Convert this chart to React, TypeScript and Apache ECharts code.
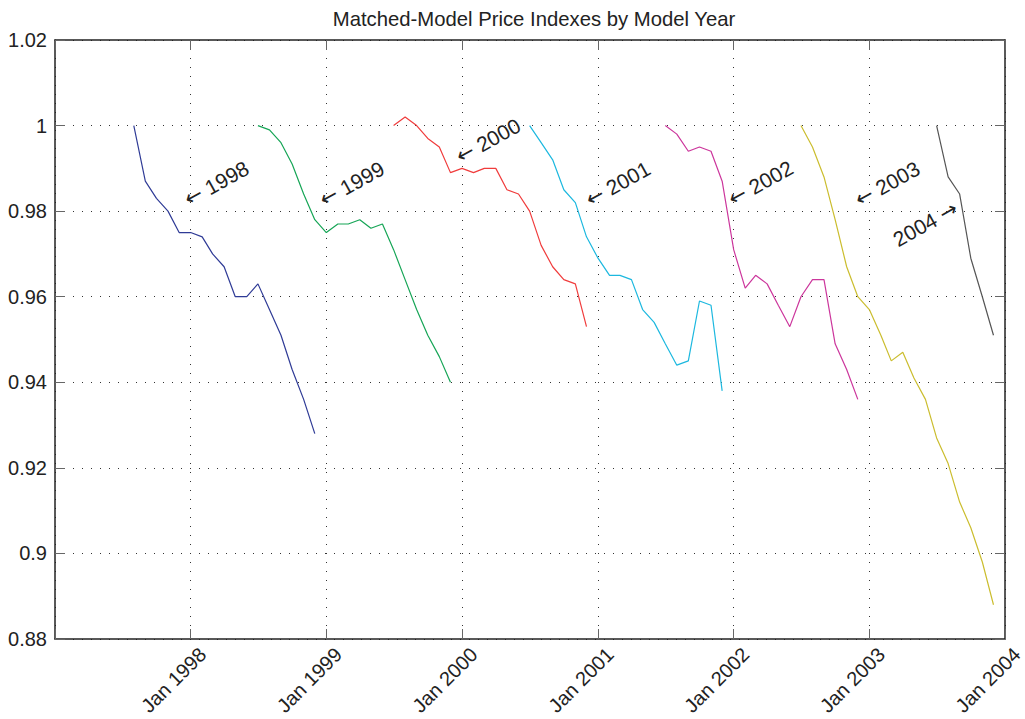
import React, { useEffect, useRef } from 'react';
import * as echarts from 'echarts';

const TITLE = 'Matched-Model Price Indexes by Model Year';
const FONT = '"Liberation Sans", Arial, Helvetica, sans-serif';

// Model years, first month of each series, colours
const MODEL_YEARS = ['1998', '1999', '2000', '2001', '2002', '2003', '2004'];
const START_MONTHS = ['1997-08', '1998-07', '1999-07', '2000-07', '2001-07', '2002-07', '2003-07'];
const COLORS = ['#2f3b96', '#16a556', '#f03c3c', '#1cb8df', '#cc369c', '#cbbd2e', '#555555'];

// Monthly index values per model year
const V1998 = [1.000, 0.987, 0.983, 0.980, 0.975, 0.975, 0.974, 0.970, 0.967, 0.960, 0.960, 0.963, 0.957, 0.951, 0.943, 0.936, 0.928];
const V1999 = [1.000, 0.999, 0.996, 0.991, 0.984, 0.978, 0.975, 0.977, 0.977, 0.978, 0.976, 0.977, 0.971, 0.964, 0.957, 0.951, 0.946, 0.940];
const V2000 = [1.000, 1.002, 1.000, 0.997, 0.995, 0.989, 0.990, 0.989, 0.990, 0.990, 0.985, 0.984, 0.980, 0.972, 0.967, 0.964, 0.963, 0.953];
const V2001 = [1.000, 0.996, 0.992, 0.985, 0.982, 0.974, 0.969, 0.965, 0.965, 0.964, 0.957, 0.954, 0.949, 0.944, 0.945, 0.959, 0.958, 0.938];
const V2002 = [1.000, 0.998, 0.994, 0.995, 0.994, 0.987, 0.971, 0.962, 0.965, 0.963, 0.958, 0.953, 0.960, 0.964, 0.964, 0.949, 0.943, 0.936];
const V2003 = [1.000, 0.995, 0.988, 0.978, 0.967, 0.960, 0.957, 0.951, 0.945, 0.947, 0.941, 0.936, 0.927, 0.921, 0.912, 0.906, 0.898, 0.888];
const V2004 = [1.000, 0.988, 0.984, 0.969, 0.960, 0.951];
const VALUES = [V1998, V1999, V2000, V2001, V2002, V2003, V2004];

// Axes
const X_MIN = '1997-01-01';
const X_MAX = '2004-01-01';
const Y_MIN = 0.88;
const Y_MAX = 1.02;
const Y_STEP = 0.02;
const MONTH_NAMES = ['Jan', 'Feb', 'Mar', 'Apr', 'May', 'Jun', 'Jul', 'Aug', 'Sep', 'Oct', 'Nov', 'Dec'];

// Arrow annotations (data position of the arrow tip)
const ANNOTATIONS = [
  { label: '1998', date: '1997-12-19', value: 0.9825, side: 'left' },
  { label: '1999', date: '1998-12-18', value: 0.9824, side: 'left' },
  { label: '2000', date: '1999-12-20', value: 0.9925, side: 'left' },
  { label: '2001', date: '2000-12-03', value: 0.9824, side: 'left' },
  { label: '2002', date: '2001-12-22', value: 0.9826, side: 'left' },
  { label: '2003', date: '2002-11-28', value: 0.9824, side: 'left' },
  { label: '2004', date: '2003-08-22', value: 0.9810, side: 'right' },
];

function monthSeries(start: string, vals: number[]) {
  const [y, m] = start.split('-').map(Number);
  return vals.map((v, i) => [Date.UTC(y, m - 1 + i, 1), v]);
}

export default function App() {
  const ref = useRef<HTMLDivElement>(null);
  useEffect(() => {
    if (!ref.current) return;
    const chart = echarts.init(ref.current, undefined, { renderer: 'svg' });
    const xMin = Date.parse(X_MIN);
    const xMax = Date.parse(X_MAX);
    const axisText = { color: '#222', fontSize: 20, fontFamily: FONT };
    const split = { show: true, lineStyle: { color: '#333', width: 1, type: [1, 8] as any } };
    const axisLine = { show: true, lineStyle: { color: '#222', width: 1.5 } };
    const tick = { show: true, inside: true, length: 10, lineStyle: { color: '#666', width: 1 } };

    chart.setOption({
      animation: false,
      useUTC: true,
      backgroundColor: '#fff',
      title: {
        text: TITLE,
        left: 529,
        top: 4,
        textAlign: 'center',
        textStyle: { fontSize: 20.3, fontWeight: 'normal', color: '#222', fontFamily: FONT },
      },
      grid: { left: 55, top: 40, right: 20, bottom: 80, containLabel: false, outerBoundsMode: 'none' },
      xAxis: [
        {
          type: 'time',
          min: xMin,
          max: xMax,
          splitNumber: 7,
          minInterval: 300 * 86400000,
          axisLine,
          axisTick: tick,
          splitLine: split,
          axisLabel: {
            ...axisText,
            rotate: 45,
            margin: 24,
            align: 'right',
            verticalAlign: 'middle',
            padding: [0, -17, 0, 0],
            hideOverlap: false,
            showMinLabel: true,
            showMaxLabel: true,
            formatter: (v: number) => {
              if (v <= xMin) return '';
              const d = new Date(v);
              return `${MONTH_NAMES[d.getUTCMonth()]} ${d.getUTCFullYear()}`;
            },
          },
        },
        {
          type: 'time',
          position: 'top',
          min: xMin,
          max: xMax,
          splitNumber: 7,
          minInterval: 300 * 86400000,
          axisLine,
          axisTick: tick,
          splitLine: { show: false },
          axisLabel: { show: false },
        },
      ],
      yAxis: [
        {
          type: 'value',
          min: Y_MIN,
          max: Y_MAX,
          interval: Y_STEP,
          axisLine,
          axisTick: tick,
          splitLine: split,
          axisLabel: {
            ...axisText,
            margin: 8,
            formatter: (v: number) => String(parseFloat(v.toFixed(2))),
          },
        },
        {
          type: 'value',
          position: 'right',
          min: Y_MIN,
          max: Y_MAX,
          interval: Y_STEP,
          axisLine,
          axisTick: tick,
          splitLine: { show: false },
          axisLabel: { show: false },
        },
      ],
      series: MODEL_YEARS.map((name, i) => ({
        name,
        type: 'line',
        xAxisIndex: 0,
        yAxisIndex: 0,
        data: monthSeries(START_MONTHS[i], VALUES[i]),
        showSymbol: false,
        symbol: 'none',
        lineStyle: { color: COLORS[i], width: 1.2 },
        itemStyle: { color: COLORS[i] },
        z: 5,
      })),
    });

    const rot = (29 * Math.PI) / 180;
    const graphic = ANNOTATIONS.map((a) => {
      const p = chart.convertToPixel({ xAxisIndex: 0, yAxisIndex: 0 }, [Date.parse(a.date), a.value]) as number[];
      const left = a.side === 'left';
      return {
        type: 'text',
        x: p[0],
        y: p[1],
        rotation: rot,
        z: 10,
        style: {
          text: left ? `{a|\u2190} ${a.label}` : `${a.label} {a|\u2192}`,
          fill: '#222',
          fontSize: 21,
          fontFamily: FONT,
          align: left ? 'left' : 'right',
          verticalAlign: 'middle',
          rich: {
            a: { fontFamily: '"DejaVu Sans"', fontSize: 21, fill: '#222' },
          },
        },
      };
    });
    chart.setOption({ graphic });

    return () => chart.dispose();
  }, []);
  return <div ref={ref} style={{ position: 'fixed', left: 0, top: 0, width: 1025, height: 719 }} />;
}
